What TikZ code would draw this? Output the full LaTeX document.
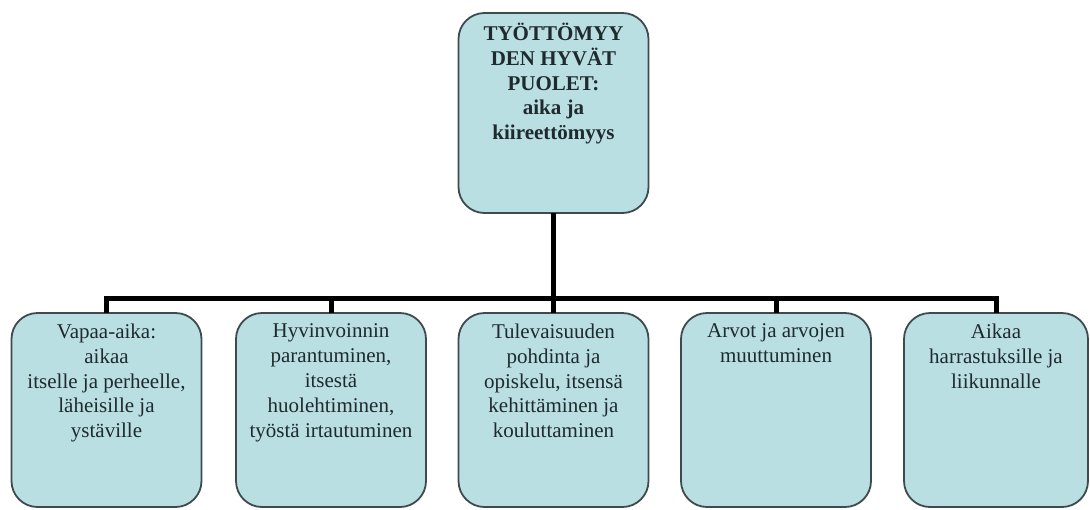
\documentclass[tikz,border=0pt]{standalone}
\usepackage{fontspec}
\setmainfont{Liberation Serif}
\definecolor{boxfill}{HTML}{B9DFE3}
\definecolor{boxline}{HTML}{3E4A4E}
\definecolor{txt}{HTML}{1E2A2E}
\newcommand{\boxtext}[3]{\parbox[c][#1][t]{#2}{\centering\fontsize{21}{24.8}\selectfont\color{txt}#3\par}}
\tikzset{
  card/.style={draw=boxline, line width=1.8pt, fill=boxfill, rounded corners=26pt, inner sep=0pt, outer sep=0pt},
  conn/.style={draw=black, line width=5pt}
}
\begin{document}
\begin{tikzpicture}[x=1pt,y=-1pt]
\useasboundingbox (0,0) rectangle (1090,509);
\node[card] (top) at (553.5,113) {\boxtext{200pt}{190pt}{\vspace{10pt}\textbf{TYÖTTÖMYY\\DEN HYVÄT\\PUOLET:\\aika ja\\kiireettömyys}}};
\node[card] (b1) at (106.5,410) {\boxtext{194pt}{190pt}{\vspace{11pt}Vapaa-aika:\\aikaa\\itselle ja perheelle,\\läheisille ja\\ystäville}};
\node[card] (b2) at (331,410) {\boxtext{194pt}{190pt}{\vspace{11pt}Hyvinvoinnin\\parantuminen,\\itsestä\\huolehtiminen,\\työstä irtautuminen}};
\node[card] (b3) at (553.5,410) {\boxtext{194pt}{190pt}{\vspace{11pt}Tulevaisuuden\\pohdinta ja\\opiskelu, itsensä\\kehittäminen ja\\kouluttaminen}};
\node[card] (b4) at (776,410) {\boxtext{194pt}{190pt}{\vspace{11pt}Arvot ja arvojen\\muuttuminen}};
\node[card] (b5) at (996,410) {\boxtext{194pt}{184pt}{\vspace{11pt}Aikaa\\harrastuksille ja\\liikunnalle}};
\coordinate (bus) at (553.5,298);
\draw[conn] (top.south) -- (bus);
\draw[conn] (b1.north) -- (b1.north |- bus) -- (b5.north |- bus) -- (b5.north);
\draw[conn] (b2.north) -- (b2.north |- bus);
\draw[conn] (b3.north) -- (b3.north |- bus);
\draw[conn] (b4.north) -- (b4.north |- bus);
\end{tikzpicture}
\end{document}
